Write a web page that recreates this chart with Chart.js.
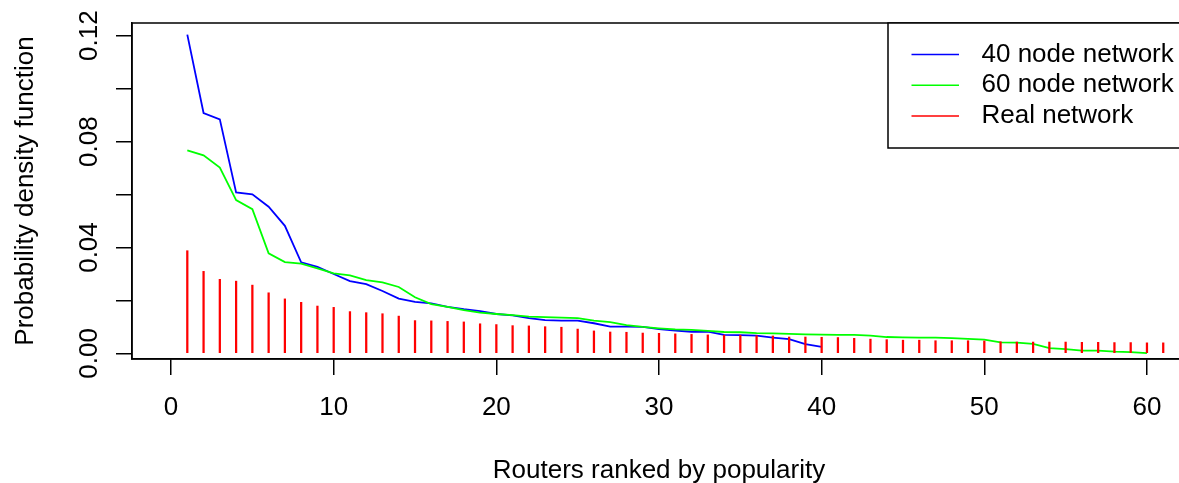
<!DOCTYPE html>
<html>
<head>
<meta charset="utf-8">
<script src="https://cdn.jsdelivr.net/npm/chart.js@4/dist/chart.umd.min.js"></script>
<style>
  html, body { margin: 0; padding: 0; background: #fff; overflow: hidden; }
  #wrap { width: 1210px; height: 483px; }
</style>
</head>
<body>
<div id="wrap"><canvas id="pdf-chart" width="1210" height="483"></canvas></div>
<script>
// values, rank 1..n
const node40 = [0.1204, 0.0908, 0.0884, 0.0608, 0.0601, 0.0554, 0.0482, 0.0344, 0.0327, 0.0300,
                0.0273, 0.0262, 0.0236, 0.0207, 0.0195, 0.0189, 0.0176, 0.0167, 0.0160, 0.0149,
                0.0144, 0.0133, 0.0126, 0.0124, 0.0124, 0.0114, 0.0101, 0.0101, 0.0100, 0.0092,
                0.0086, 0.0082, 0.0082, 0.0070, 0.0069, 0.0067, 0.0060, 0.0054, 0.0035, 0.0025];
const node60 = [0.0767, 0.0748, 0.0702, 0.0579, 0.0545, 0.0378, 0.0345, 0.0339, 0.0321, 0.0302,
                0.0295, 0.0277, 0.0268, 0.0251, 0.0212, 0.0186, 0.0176, 0.0164, 0.0154, 0.0149,
                0.0145, 0.0139, 0.0137, 0.0135, 0.0133, 0.0124, 0.0118, 0.0107, 0.0100, 0.0095,
                0.0091, 0.0089, 0.0085, 0.0081, 0.0080, 0.0077, 0.0076, 0.0074, 0.0072, 0.0071,
                0.0070, 0.0070, 0.0067, 0.0062, 0.0061, 0.0060, 0.0060, 0.0058, 0.0055, 0.0052,
                0.0042, 0.0041, 0.0036, 0.0020, 0.0016, 0.0011, 0.0011, 0.0007, 0.0005, 0.0001];
const realNet = [0.0388, 0.0310, 0.0280, 0.0273, 0.0258, 0.0229, 0.0206, 0.0193, 0.0179, 0.0174,
                 0.0158, 0.0154, 0.0150, 0.0141, 0.0124, 0.0123, 0.0121, 0.0119, 0.0112, 0.0109,
                 0.0105, 0.0104, 0.0101, 0.0099, 0.0092, 0.0085, 0.0081, 0.0080, 0.0077, 0.0076,
                 0.0074, 0.0072, 0.0070, 0.0069, 0.0069, 0.0067, 0.0066, 0.0062, 0.0062, 0.0061,
                 0.0060, 0.0057, 0.0054, 0.0052, 0.0050, 0.0050, 0.0048, 0.0048, 0.0048, 0.0047,
                 0.0044, 0.0043, 0.0043, 0.0043, 0.0043, 0.0042, 0.0042, 0.0041, 0.0041, 0.0040,
                 0.0040];
const seriesNames = ['40 node network', '60 node network', 'Real network'];
const seriesColors = ['#0000ff', '#00ff00', '#ff0000'];
const yTickValues = [0, 0.04, 0.08, 0.12];
const yTickLabels = ['0.00', '0.04', '0.08', '0.12'];
const xTitle = 'Routers ranked by popularity';
const yTitle = 'Probability density function';

const FONT = '26px "Liberation Sans", Arial, sans-serif';

function ranked(values) {
    return values.map((v, i) => ({x: i + 1, y: v}));
}

// R-style box, rotated y labels, titles and legend
const rFrame = {
    id: 'rFrame',
    afterDraw(chart) {
        const {ctx, chartArea: a, scales} = chart;
        ctx.save();
        ctx.strokeStyle = '#000';
        ctx.lineWidth = 1.5;
        ctx.strokeRect(a.left, a.top, a.right - a.left, a.bottom - a.top);

        ctx.fillStyle = '#000';
        ctx.font = FONT;
        ctx.textAlign = 'center';
        ctx.textBaseline = 'alphabetic';
        yTickValues.forEach((v, i) => {
            ctx.save();
            ctx.translate(97, scales.y.getPixelForValue(v));
            ctx.rotate(-Math.PI / 2);
            ctx.fillText(yTickLabels[i], 0, 0);
            ctx.restore();
        });

        ctx.save();
        ctx.translate(33, (a.top + a.bottom) / 2);
        ctx.rotate(-Math.PI / 2);
        ctx.fillText(yTitle, 0, 0);
        ctx.restore();

        ctx.fillText(xTitle, (a.left + a.right) / 2, 478);

        // legend, top right
        const lx = a.right - 298, ly = a.top, lh = 125;
        ctx.fillStyle = '#fff';
        ctx.fillRect(lx, ly, a.right - lx, lh);
        ctx.strokeRect(lx, ly, a.right - lx, lh);
        ctx.textAlign = 'left';
        ctx.textBaseline = 'middle';
        seriesNames.forEach((name, i) => {
            const ry = ly + 31.6 + i * 30.7;
            ctx.strokeStyle = seriesColors[i];
            ctx.lineWidth = 1.5;
            ctx.beginPath();
            ctx.moveTo(lx + 23.5, ry);
            ctx.lineTo(lx + 71, ry);
            ctx.stroke();
            ctx.fillStyle = '#000';
            ctx.fillText(name, lx + 93.5, ry);
        });
        ctx.restore();
    }
};

const ctx = document.getElementById('pdf-chart');
const pdfChart = new Chart(ctx, {
    type: 'line',
    data: {
        datasets: [
            {
                label: seriesNames[0],
                data: ranked(node40),
                borderColor: seriesColors[0],
                borderWidth: 1.8,
                pointRadius: 0,
                tension: 0,
                order: 2
            },
            {
                label: seriesNames[1],
                data: ranked(node60),
                borderColor: seriesColors[1],
                borderWidth: 1.8,
                pointRadius: 0,
                tension: 0,
                order: 1
            },
            {
                type: 'bar',
                label: seriesNames[2],
                data: ranked(realNet),
                backgroundColor: seriesColors[2],
                borderWidth: 0,
                barThickness: 1.6,
                grouped: false,
                order: 0
            }
        ]
    },
    options: {
        responsive: false,
        animation: false,
        layout: {
            padding: {top: 23, right: 24, left: 0, bottom: 0}
        },
        scales: {
            x: {
                type: 'linear',
                min: -2.4,
                max: 62.4,
                offset: false,
                afterFit: (s) => { s.height = 124; s.paddingRight = 0; },
                border: {display: true, color: '#000', width: 1.5},
                grid: {
                    offset: false,
                    drawOnChartArea: false,
                    drawTicks: true,
                    tickLength: 16,
                    color: '#000',
                    lineWidth: 1.5
                },
                ticks: {
                    stepSize: 10,
                    includeBounds: false,
                    maxRotation: 0,
                    padding: 17,
                    color: '#000',
                    font: {family: '"Liberation Sans", Arial, sans-serif', size: 26}
                }
            },
            y: {
                min: -0.0021,
                max: 0.1248,
                afterFit: (s) => { s.width = 132; },
                border: {display: true, color: '#000', width: 1.5},
                grid: {
                    drawOnChartArea: false,
                    drawTicks: true,
                    tickLength: 16,
                    color: '#000',
                    lineWidth: 1.5
                },
                ticks: {
                    stepSize: 0.02,
                    includeBounds: false,
                    display: false
                }
            }
        },
        plugins: {
            legend: {display: false},
            tooltip: {enabled: false}
        }
    },
    plugins: [rFrame]
});
</script>
</body>
</html>
